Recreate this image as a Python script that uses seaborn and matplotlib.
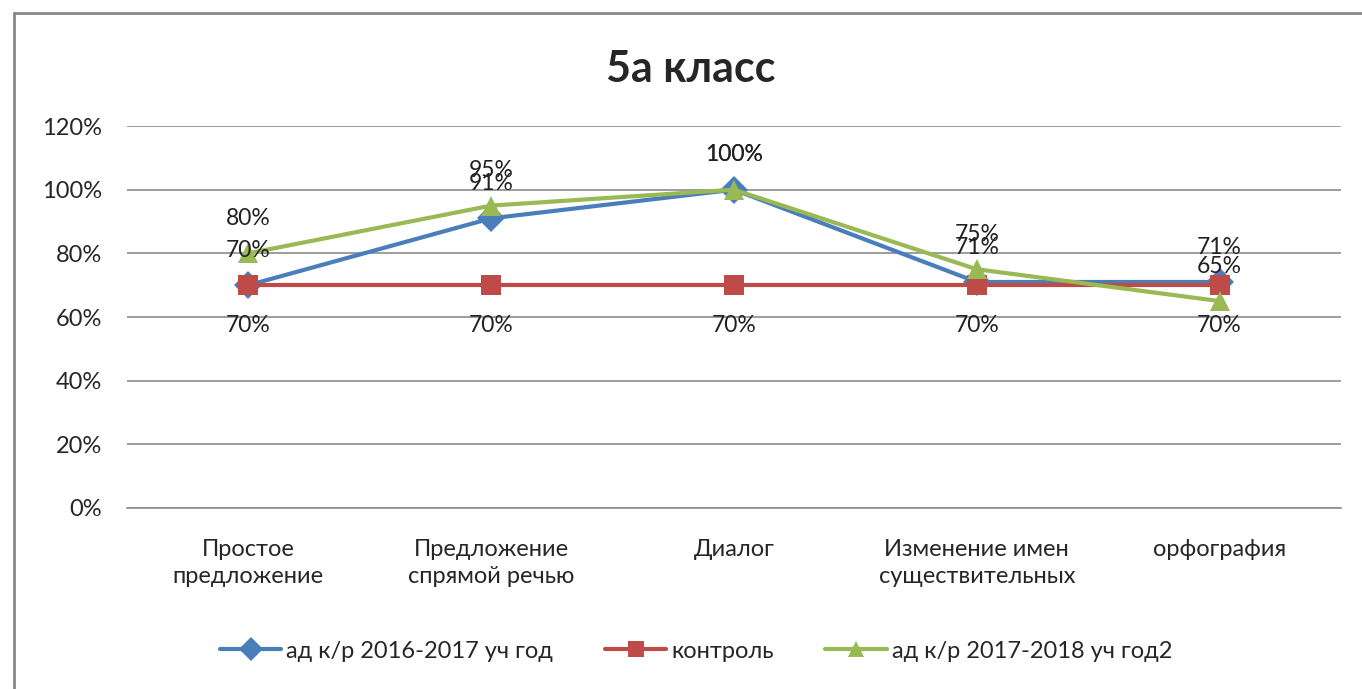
import matplotlib
matplotlib.use('Agg')
import matplotlib.pyplot as plt
import matplotlib.lines as mlines
from matplotlib.ticker import PercentFormatter
import pandas as pd
import seaborn as sns

categories = ['Простое\nпредложение', 'Предложение\nспрямой речью', 'Диалог',
              'Изменение имен\nсуществительных', 'орфография']
series_names = ['ад к/р 2016-2017 уч год', 'контроль', 'ад к/р 2017-2018 уч год2']
ad_2016 = [0.70, 0.91, 1.00, 0.71, 0.71]
control = [0.70, 0.70, 0.70, 0.70, 0.70]
ad_2017 = [0.80, 0.95, 1.00, 0.75, 0.65]
colors = ['#4A7EBB', '#BE4B48', '#98B954']
markers = ['D', 's', '^']

if __name__ == '__main__':
    sns.set_style('white')
    plt.rcParams['font.family'] = ['Lato', 'DejaVu Sans']

    rows = []
    for name, vals in zip(series_names, [ad_2016, control, ad_2017]):
        for i, v in enumerate(vals):
            rows.append({'pos': i, 'value': v, 'series': name})
    dframe = pd.DataFrame(rows)

    fig = plt.figure(figsize=(13.62, 6.89), dpi=100)
    ax = fig.add_axes([0.0932, 0.2627, 0.8914, 0.5544])

    sns.lineplot(data=dframe, x='pos', y='value', hue='series', style='series',
                 hue_order=series_names, style_order=series_names,
                 palette=colors, markers=dict(zip(series_names, markers)),
                 dashes=False, linewidth=3, markersize=14, markeredgewidth=0,
                 ax=ax, legend=False)

    # data labels: blue and green above the point, control below
    offsets = [25, -29, 25]
    for vals, off in zip([ad_2016, control, ad_2017], offsets):
        for i, v in enumerate(vals):
            ax.annotate(f'{round(v * 100)}%', (i, v), xytext=(0, off),
                        textcoords='offset points', ha='center', va='center',
                        fontsize=16.5, color='#222222')

    ax.set_xlim(-0.5, len(categories) - 0.5)
    ax.set_ylim(0, 1.2)
    ax.set_yticks([0, 0.2, 0.4, 0.6, 0.8, 1.0, 1.2])
    ax.yaxis.set_major_formatter(PercentFormatter(1.0, decimals=0))
    ax.set_xticks(range(len(categories)))
    ax.set_xticklabels(categories, fontsize=17, linespacing=1.4)
    ax.tick_params(axis='y', labelsize=17, length=0, pad=18)
    ax.tick_params(axis='x', length=0, pad=22)
    ax.set_xlabel('')
    ax.set_ylabel('')
    ax.grid(axis='y', color='#8C8C8C', linewidth=1.2)
    ax.set_axisbelow(True)
    for s in ['left', 'right', 'top']:
        ax.spines[s].set_visible(False)
    ax.spines['bottom'].set_color('#8C8C8C')
    ax.spines['bottom'].set_linewidth(1.2)

    fig.text(0.507, 0.9, '5а класс', ha='center', va='center',
             fontsize=31, fontweight='bold')

    handles = [mlines.Line2D([], [], color=c, marker=m, linewidth=3,
                             markersize=12, markeredgewidth=0)
               for c, m in zip(colors, markers)]
    fig.legend(handles, series_names, loc='center', ncol=3,
               bbox_to_anchor=(0.511, 0.055), frameon=False, fontsize=17,
               handlelength=2.6, handletextpad=0.2, columnspacing=2.2)

    # outer chart border (top and left visible)
    fig.add_artist(mlines.Line2D([14 / 1362, 14 / 1362], [0, 1 - 13 / 689],
                                 color='#888888', linewidth=2))
    fig.add_artist(mlines.Line2D([14 / 1362, 1], [1 - 13 / 689, 1 - 13 / 689],
                                 color='#888888', linewidth=2))

    plt.savefig('out.png', dpi=100)
    plt.close()
# EOF
